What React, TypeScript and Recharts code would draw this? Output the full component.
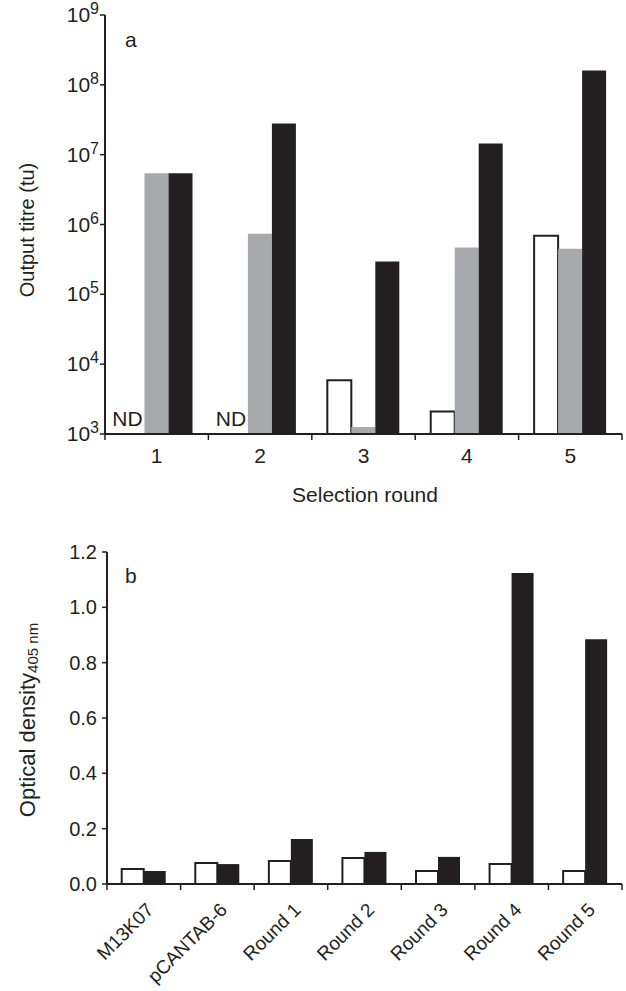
import { BarChart, Bar, XAxis, YAxis } from 'recharts';

// panel a: output titre per selection round (ND = not determined)
const rounds = ['1', '2', '3', '4', '5'];
const titreWhite = [null, null, 5900, 2100, 690000];
const titreGray = [5400000, 740000, 1260, 470000, 450000];
const titreBlack = [5400000, 28000000, 295000, 14400000, 160000000];
const titreTicks = [1e3, 1e4, 1e5, 1e6, 1e7, 1e8, 1e9];

// panel b: ELISA optical density
const samples = ['M13K07', 'pCANTAB-6', 'Round 1', 'Round 2', 'Round 3', 'Round 4', 'Round 5'];
const odWhite = [0.054, 0.076, 0.083, 0.094, 0.047, 0.072, 0.047];
const odBlack = [0.047, 0.072, 0.163, 0.116, 0.098, 1.124, 0.885];
const odTicks = [0, 0.2, 0.4, 0.6, 0.8, 1.0, 1.2];

const INK = '#231f20';
const GREY = '#a7a9ac';
const W = 626;

const titreData = rounds.map((round, i) => ({
  round,
  white: titreWhite[i],
  gray: titreGray[i],
  black: titreBlack[i],
}));

const odData = samples.map((sample, i) => ({
  sample,
  white: odWhite[i],
  black: odBlack[i],
}));

const TOP_LEFT = 105;
const TOP_RIGHT = 4;
const TOP_BAND = (W - TOP_LEFT - TOP_RIGHT) / rounds.length;

const BOT_LEFT = 107;
const BOT_RIGHT = 4;
const BOT_BAND = (W - BOT_LEFT - BOT_RIGHT) / samples.length;

function PowerTick(props: any) {
  const { x, y, payload } = props;
  const exp = Math.round(Math.log10(payload.value));
  return (
    <text x={x} y={y + 7} textAnchor="end" fontSize={21} fill={INK}>
      10<tspan fontSize={16} dy={-8}>{exp}</tspan>
    </text>
  );
}

function RoundTick(props: any) {
  const { x, y, payload, index } = props;
  const left = x - TOP_BAND / 2;
  const right = x + TOP_BAND / 2;
  return (
    <g>
      <line x1={left} y1={y} x2={left} y2={y + 6} stroke={INK} strokeWidth={1.5} />
      {index === rounds.length - 1 && (
        <line x1={right} y1={y} x2={right} y2={y + 6} stroke={INK} strokeWidth={1.5} />
      )}
      <text x={x} y={y + 29} textAnchor="middle" fontSize={21} fill={INK}>
        {payload.value}
      </text>
      {titreWhite[index] == null && (
        <text x={x - 14} y={y - 8} textAnchor="end" fontSize={21} fill={INK}>
          ND
        </text>
      )}
    </g>
  );
}

function SampleTick(props: any) {
  const { x, y, payload, index } = props;
  const left = x - BOT_BAND / 2;
  const right = x + BOT_BAND / 2;
  const px = x + 11;
  const py = y + 27;
  return (
    <g>
      <line x1={left} y1={y} x2={left} y2={y + 6} stroke={INK} strokeWidth={1.5} />
      {index === samples.length - 1 && (
        <line x1={right} y1={y} x2={right} y2={y + 6} stroke={INK} strokeWidth={1.5} />
      )}
      <text
        x={px}
        y={py}
        transform={`rotate(-45 ${px} ${py})`}
        textAnchor="end"
        fontSize={19}
        fill={INK}
      >
        {payload.value}
      </text>
    </g>
  );
}

export default function App() {
  return (
    <div
      style={{
        position: 'absolute',
        left: 0,
        top: 0,
        width: W,
        height: 991,
        background: '#fff',
        fontFamily: '"Liberation Sans", Arial, sans-serif',
      }}
    >
      <BarChart
        width={W}
        height={510}
        data={titreData}
        margin={{ top: 15, right: TOP_RIGHT, bottom: 0, left: 0 }}
        barCategoryGap="15%"
        barGap={0}
      >
        <XAxis
          dataKey="round"
          height={76}
          interval={0}
          tickLine={false}
          tickSize={0}
          tickMargin={0}
          tick={(p: any) => <RoundTick {...p} />}
          axisLine={{ stroke: INK, strokeWidth: 2 }}
        />
        <XAxis
          xAxisId="frame"
          dataKey="round"
          orientation="top"
          height={0}
          tick={false}
          tickLine={false}
          axisLine={{ stroke: INK, strokeWidth: 1.5 }}
        />
        <YAxis
          type="number"
          scale="log"
          domain={[1e3, 1e9]}
          ticks={titreTicks}
          allowDataOverflow
          width={TOP_LEFT}
          tickSize={5}
          tickMargin={1}
          tick={(p: any) => <PowerTick {...p} />}
          tickLine={{ stroke: INK, strokeWidth: 1.5 }}
          axisLine={{ stroke: INK, strokeWidth: 2 }}
        />
        <YAxis
          yAxisId="frame"
          orientation="right"
          type="number"
          domain={[0, 1]}
          width={0}
          tick={false}
          tickLine={false}
          axisLine={{ stroke: INK, strokeWidth: 1.5 }}
        />
        <Bar dataKey="white" fill="#fff" stroke={INK} strokeWidth={2} isAnimationActive={false} />
        <Bar dataKey="gray" fill={GREY} isAnimationActive={false} />
        <Bar dataKey="black" fill={INK} isAnimationActive={false} />
        <text x={125} y={47} fontSize={21} fill={INK}>a</text>
        <text x={365} y={502} textAnchor="middle" fontSize={21} fill={INK}>
          Selection round
        </text>
        <text
          x={27}
          y={230}
          transform="rotate(-90 27 230)"
          textAnchor="middle"
          dominantBaseline="central"
          fontSize={20}
          fill={INK}
        >
          Output titre (tu)
        </text>
      </BarChart>

      <div style={{ position: 'absolute', left: 0, top: 510 }}>
        <BarChart
          width={W}
          height={481}
          data={odData}
          margin={{ top: 42, right: BOT_RIGHT, bottom: 0, left: 0 }}
          barCategoryGap="20%"
          barGap={0}
        >
          <XAxis
            dataKey="sample"
            height={107}
            interval={0}
            tickLine={false}
            tickSize={0}
            tickMargin={0}
            tick={(p: any) => <SampleTick {...p} />}
            axisLine={{ stroke: INK, strokeWidth: 2 }}
          />
          <XAxis
            xAxisId="frame"
            dataKey="sample"
            orientation="top"
            height={0}
            tick={false}
            tickLine={false}
            axisLine={{ stroke: INK, strokeWidth: 1.5 }}
          />
          <YAxis
            type="number"
            domain={[0, 1.2]}
            ticks={odTicks}
            allowDataOverflow
            width={BOT_LEFT}
            tickSize={5}
            tickMargin={5}
            tickFormatter={(v: number) => v.toFixed(1)}
            tick={{ fontSize: 20, fill: INK }}
            tickLine={{ stroke: INK, strokeWidth: 1.5 }}
            axisLine={{ stroke: INK, strokeWidth: 2 }}
          />
          <YAxis
            yAxisId="frame"
            orientation="right"
            type="number"
            domain={[0, 1]}
            width={0}
            tick={false}
            tickLine={false}
            axisLine={{ stroke: INK, strokeWidth: 1.5 }}
          />
          <Bar dataKey="white" fill="#fff" stroke={INK} strokeWidth={2} isAnimationActive={false} />
          <Bar dataKey="black" fill={INK} isAnimationActive={false} />
          <text x={125} y={73} fontSize={21} fill={INK}>b</text>
          <text
            x={27}
            y={210}
            transform="rotate(-90 27 210)"
            textAnchor="middle"
            dominantBaseline="central"
            fontSize={22}
            fill={INK}
          >
            Optical density<tspan fontSize={15} dy={5}>405 nm</tspan>
          </text>
        </BarChart>
      </div>
    </div>
  );
}
